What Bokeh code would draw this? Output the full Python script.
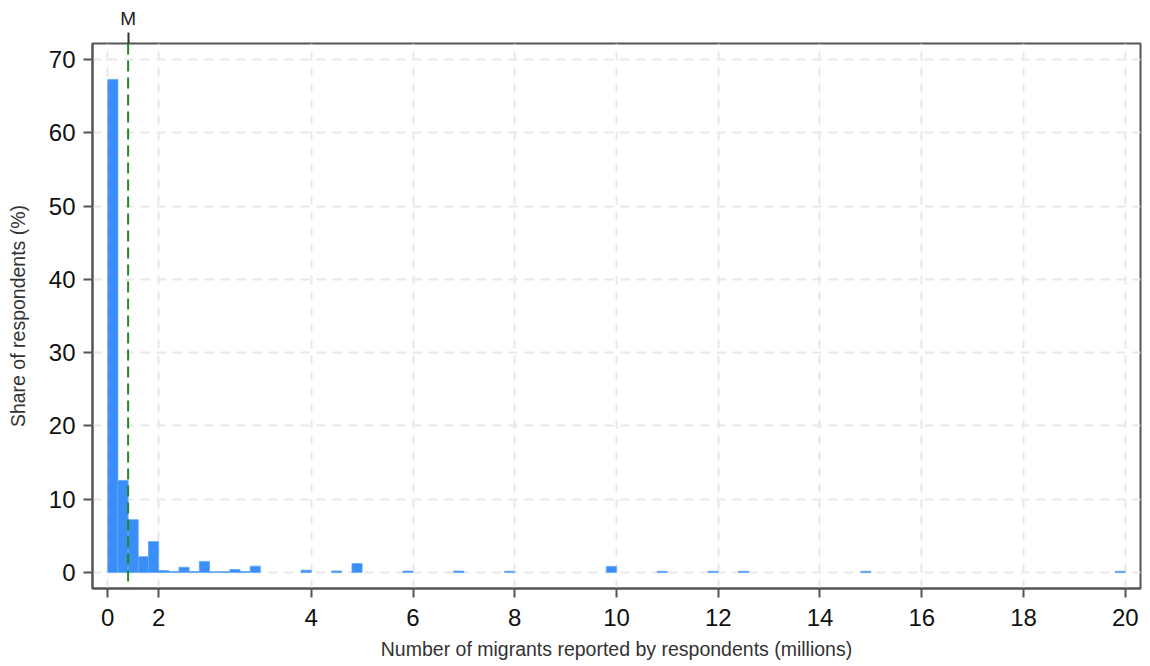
from bokeh.plotting import figure
from bokeh.models import FixedTicker, LinearAxis, Span, Range1d
from bokeh.embed import file_html
from bokeh.resources import INLINE

# Histogram bins (millions of migrants), width 0.2; value = share of respondents (%)
bin_left = [0.0, 0.2, 0.4, 0.6, 0.8,
            1.0, 1.2, 1.4, 1.6, 1.8,
            2.0, 2.2, 2.4, 2.6, 2.8,
            3.8, 4.4, 4.8, 5.8, 6.8,
            7.8, 9.8, 10.8, 11.8, 12.4,
            14.8, 19.8]
share = [67.3, 12.55, 7.2, 2.15, 4.2,
         0.25, 0.12, 0.7, 0.12, 1.5,
         0.1, 0.1, 0.4, 0.12, 0.85,
         0.3, 0.2, 1.2, 0.18, 0.18,
         0.15, 0.82, 0.15, 0.15, 0.15,
         0.15, 0.15]
bin_width = 0.2

median_value = 0.4

x_tick_values = [0, 1, 4, 6, 8, 10, 12, 14, 16, 18, 20]
x_tick_labels = ["0", "2", "4", "6", "8", "10", "12", "14", "16", "18", "20"]
y_tick_values = [0, 10, 20, 30, 40, 50, 60, 70]

FONT = "Liberation Sans"
AXIS_COL = "#555555"

p = figure(width=1150, height=666, output_backend="svg", toolbar_location=None,
           x_range=Range1d(-0.3, 20.3), y_range=Range1d(-2.2, 72.2),
           min_border_left=92, min_border_right=10, min_border_top=43,
           min_border_bottom=78, background_fill_color="white",
           border_fill_color="white")

p.vbar(x=[b + bin_width / 2 for b in bin_left], top=share, bottom=0,
       width=bin_width, fill_color="#3a8ef8", line_color="#62a6f8",
       line_width=0.8)

p.add_layout(Span(location=median_value, dimension="height",
                  line_color="#1f8a1f", line_dash="11 6", line_width=2))

p.outline_line_color = AXIS_COL
p.outline_line_width = 2

# grid
for g in (p.xgrid, p.ygrid):
    g.grid_line_color = "#e8e8e8"
    g.grid_line_width = 2
    g.grid_line_dash = "9 7"
p.xgrid.ticker = FixedTicker(ticks=x_tick_values)
p.ygrid.ticker = FixedTicker(ticks=y_tick_values)

# x axis
xa = p.xaxis[0]
xa.ticker = FixedTicker(ticks=x_tick_values)
xa.major_label_overrides = {v: l for v, l in zip(x_tick_values, x_tick_labels)}
xa.axis_label = "Number of migrants reported by respondents (millions)"

# y axis
ya = p.yaxis[0]
ya.ticker = FixedTicker(ticks=y_tick_values)
ya.axis_label = "Share of respondents (%)"

for ax in (xa, ya):
    ax.axis_line_color = AXIS_COL
    ax.axis_line_width = 2
    ax.major_tick_line_color = AXIS_COL
    ax.major_tick_line_width = 2
    ax.major_tick_out = 9
    ax.major_tick_in = 0
    ax.minor_tick_line_color = None
    ax.major_label_text_font = FONT
    ax.major_label_text_font_size = "24px"
    ax.major_label_text_color = "#111111"
    ax.axis_label_text_font = FONT
    ax.axis_label_text_font_size = "19.5px"
    ax.axis_label_text_font_style = "normal"
    ax.axis_label_text_color = "#333333"
xa.major_label_standoff = 11
xa.axis_label_standoff = 9
ya.major_label_standoff = 8
ya.axis_label_standoff = 17

# top marker axis for the median
top = LinearAxis(ticker=FixedTicker(ticks=[median_value]),
                 major_label_overrides={median_value: "M"})
top.axis_line_color = None
top.major_tick_line_color = "#333333"
top.major_tick_line_width = 2
top.major_tick_out = 11
top.major_tick_in = 0
top.minor_tick_line_color = None
top.major_label_text_font = FONT
top.major_label_text_font_size = "19px"
top.major_label_text_color = "#222222"
top.major_label_standoff = 4
p.add_layout(top, "above")

open("out.html", "w").write(file_html(p, INLINE))
